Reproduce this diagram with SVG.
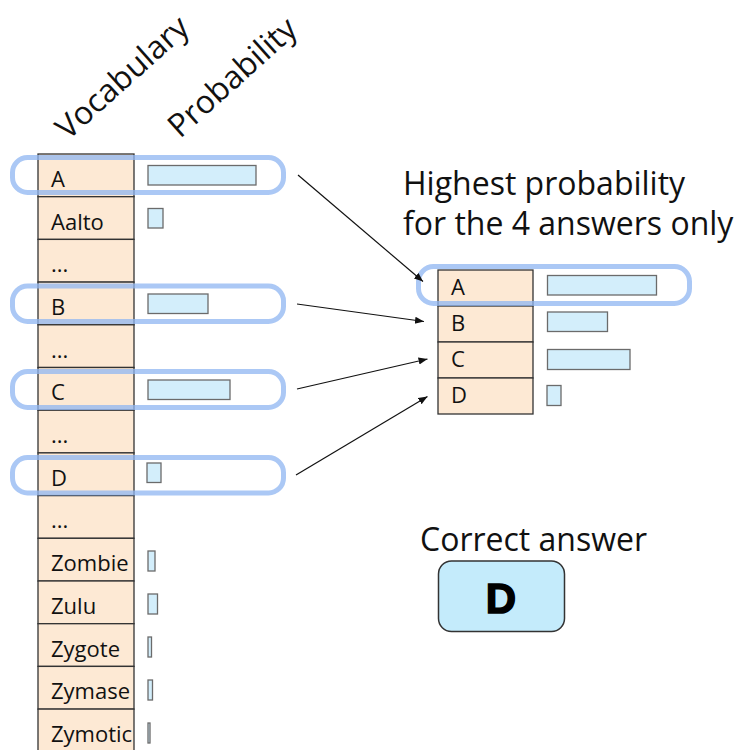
<svg xmlns="http://www.w3.org/2000/svg" width="738" height="750" viewBox="0 0 738 750">
<style>
text{font-family:"Open Sans","Noto Sans","DejaVu Sans",sans-serif;fill:#111}
.cell{fill:#fde9d4;stroke:#333;stroke-width:1.3}
.lbl{font-size:22px}
.bar{fill:#d3eefb;stroke:#6b6b6b;stroke-width:1.3}
.hl{fill:none;stroke:#8fb6f2;stroke-opacity:0.75;stroke-width:5}
.big{font-size:32px}
.hdr{font-size:32px}
.conn{stroke:#111;stroke-width:1.2;fill:none}
</style>
<defs>
<marker id="ah" viewBox="0 0 10 10" refX="10" refY="5" markerWidth="9" markerHeight="9" markerUnits="userSpaceOnUse" orient="auto">
<path d="M0,1 L10,5 L0,9 z" fill="#111"/>
</marker>
</defs>
<text class="hdr" transform="translate(68,141) rotate(-42)">Vocabulary</text>
<text class="hdr" transform="translate(180,139) rotate(-42)">Probability</text>
<g id="vocab">
<rect class="cell" x="38" y="154" width="96" height="42.7"/>
<rect class="cell" x="38" y="196.7" width="96" height="42.7"/>
<rect class="cell" x="38" y="239.4" width="96" height="42.7"/>
<rect class="cell" x="38" y="282.1" width="96" height="42.7"/>
<rect class="cell" x="38" y="324.8" width="96" height="42.7"/>
<rect class="cell" x="38" y="367.5" width="96" height="42.7"/>
<rect class="cell" x="38" y="410.2" width="96" height="42.7"/>
<rect class="cell" x="38" y="452.9" width="96" height="42.7"/>
<rect class="cell" x="38" y="495.6" width="96" height="42.7"/>
<rect class="cell" x="38" y="538.3" width="96" height="42.7"/>
<rect class="cell" x="38" y="581" width="96" height="42.7"/>
<rect class="cell" x="38" y="623.7" width="96" height="42.7"/>
<rect class="cell" x="38" y="666.4" width="96" height="42.7"/>
<rect class="cell" x="38" y="709.1" width="96" height="45"/>
<text class="lbl" x="51" y="187">A</text>
<text class="lbl" x="51" y="230">Aalto</text>
<text class="lbl" x="51" y="272">...</text>
<text class="lbl" x="51" y="315">B</text>
<text class="lbl" x="51" y="358">...</text>
<text class="lbl" x="51" y="400">C</text>
<text class="lbl" x="51" y="443">...</text>
<text class="lbl" x="51" y="486">D</text>
<text class="lbl" x="51" y="528">...</text>
<text class="lbl" x="51" y="571">Zombie</text>
<text class="lbl" x="51" y="614">Zulu</text>
<text class="lbl" x="51" y="657">Zygote</text>
<text class="lbl" x="51" y="699">Zymase</text>
<text class="lbl" x="51" y="742">Zymotic</text>
</g>
<g id="probs">
<rect class="bar" x="148" y="165.5" width="108" height="19.5"/>
<rect class="bar" x="148" y="208.5" width="15" height="19.5"/>
<rect class="bar" x="148" y="294" width="60" height="19.5"/>
<rect class="bar" x="148" y="380" width="82" height="19.5"/>
<rect class="bar" x="147" y="463" width="14" height="19.5"/>
<rect class="bar" x="148" y="551" width="7" height="20"/>
<rect class="bar" x="148" y="594" width="9.5" height="20"/>
<rect class="bar" x="148" y="637" width="3.5" height="20"/>
<rect class="bar" x="148" y="680" width="4.5" height="20"/>
<rect class="bar" x="148" y="723" width="2" height="20"/>
</g>
<g id="highlights">
<rect class="hl" x="12.5" y="157.5" width="271" height="35" rx="15"/>
<rect class="hl" x="12.5" y="286" width="271" height="35.5" rx="15"/>
<rect class="hl" x="12.5" y="371.5" width="271" height="36" rx="15"/>
<rect class="hl" x="12.5" y="457.5" width="271" height="35.5" rx="15"/>
</g>
<text class="big" x="403" y="195">Highest probability</text>
<text class="big" x="403" y="235">for the 4 answers only</text>
<g id="answers">
<rect class="cell" x="438" y="270" width="95" height="36"/>
<rect class="cell" x="438" y="306" width="95" height="36"/>
<rect class="cell" x="438" y="342" width="95" height="36"/>
<rect class="cell" x="438" y="378" width="95" height="36"/>
<text class="lbl" x="451" y="295">A</text>
<text class="lbl" x="451" y="331">B</text>
<text class="lbl" x="451" y="367">C</text>
<text class="lbl" x="451" y="403">D</text>
<rect class="bar" x="547.5" y="275.5" width="109" height="19.5"/>
<rect class="bar" x="547.5" y="312" width="60" height="19.5"/>
<rect class="bar" x="547.5" y="349.5" width="82.5" height="20"/>
<rect class="bar" x="547" y="385.5" width="14" height="20"/>
<rect class="hl" x="418.5" y="266.5" width="271" height="37" rx="15"/>
</g>
<g id="connectors">
<line class="conn" x1="298" y1="175" x2="423" y2="281.5" marker-end="url(#ah)"/>
<line class="conn" x1="297" y1="304" x2="424" y2="321.5" marker-end="url(#ah)"/>
<line class="conn" x1="297" y1="389" x2="427.5" y2="359" marker-end="url(#ah)"/>
<line class="conn" x1="296" y1="475" x2="427.5" y2="396.5" marker-end="url(#ah)"/>
</g>
<text class="big" x="420" y="551">Correct answer</text>
<g id="correct">
<rect x="438.5" y="561" width="126" height="70.5" rx="13" fill="#c4ebfb" stroke="#333" stroke-width="1.5"/>
<text x="501" y="613" text-anchor="middle" style="font-family:'Liberation Sans',Arial,sans-serif;font-weight:bold;font-size:42px;fill:#000;stroke:#000;stroke-width:1.5">D</text>
</g>
</svg>
